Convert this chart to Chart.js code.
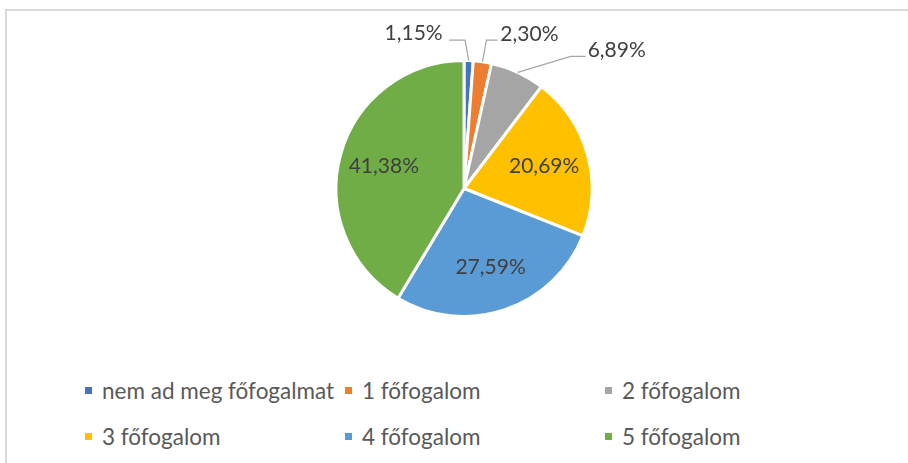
<!DOCTYPE html>
<html>
<head>
<meta charset="utf-8">
<script src="https://cdn.jsdelivr.net/npm/chart.js@4.4.0/dist/chart.umd.min.js"></script>
<style>
  html, body { margin: 0; padding: 0; background: #fff; }
  body { width: 908px; height: 463px; position: relative; overflow: hidden; font-family: Lato, "Open Sans", sans-serif; }
  #frame { position: absolute; left: 5px; top: 9px; width: 960px; height: 500px;
           border-left: 2px solid #d9d9d9; border-top: 2px solid #d9d9d9; }
  #wrap { position: absolute; left: 0; top: 0; width: 908px; height: 370px; }
  #legend { position: absolute; left: 0; top: 0; }
  .item { position: absolute; height: 26px; line-height: 26px; font-size: 22.5px; color: #595959; white-space: nowrap; }
  .box { position: absolute; left: 0; top: 9px; width: 7px; height: 7px; }
  .txt { position: absolute; left: 17px; top: 0; }
</style>
</head>
<body>
<div id="frame"></div>
<div id="wrap"><canvas id="myChart"></canvas></div>
<div id="legend"></div>
<script>
const categories = ['nem ad meg főfogalmat', '1 főfogalom', '2 főfogalom', '3 főfogalom', '4 főfogalom', '5 főfogalom'];
const shares = [1.15, 2.30, 6.89, 20.69, 27.59, 41.38];
const shareLabels = ['1,15%', '2,30%', '6,89%', '20,69%', '27,59%', '41,38%'];
const colors = ['#4472C4', '#ED7D31', '#A5A5A5', '#FFC000', '#5B9BD5', '#70AD47'];

// where each label goes: inside the slice, or outside with a leader line
// (offsets are relative to the point on the rim at the slice's mid angle)
const labelPlacement = [
    { text: [-55, -27], elbow: [-3.5, -20.5], end: [-19.5, -20.5] },
    { text: [47, -28], elbow: [4, -21.7], end: [15, -21.7] },
    { text: [99, -22], elbow: [53, -16], end: [68, -16] },
    null,
    null,
    null
];

const pieLabels = {
    id: 'pieLabels',
    afterDatasetsDraw(chart) {
        const c = chart.ctx;
        const arcs = chart.getDatasetMeta(0).data;
        c.save();
        c.font = '21px Lato';
        c.fillStyle = '#404040';
        c.textAlign = 'center';
        c.textBaseline = 'middle';
        arcs.forEach((arc, i) => {
            const mid = (arc.startAngle + arc.endAngle) / 2;
            const p = labelPlacement[i];
            if (!p) {
                const r = arc.outerRadius * 0.65;
                c.fillText(shareLabels[i], arc.x + Math.cos(mid) * r, arc.y + Math.sin(mid) * r);
                return;
            }
            const ax = arc.x + Math.cos(mid) * arc.outerRadius;
            const ay = arc.y + Math.sin(mid) * arc.outerRadius;
            c.strokeStyle = '#A6A6A6';
            c.lineWidth = 1.2;
            c.beginPath();
            c.moveTo(ax, ay);
            c.lineTo(ax + p.elbow[0], ay + p.elbow[1]);
            c.lineTo(ax + p.end[0], ay + p.end[1]);
            c.stroke();
            c.fillText(shareLabels[i], ax + p.text[0], ay + p.text[1]);
        });
        c.restore();
    }
};

const ctx = document.getElementById('myChart').getContext('2d');
const myChart = new Chart(ctx, {
    type: 'pie',
    data: {
        labels: categories,
        datasets: [{
            data: shares,
            backgroundColor: colors,
            borderColor: '#ffffff',
            borderWidth: 3,
            hoverOffset: 0
        }]
    },
    options: {
        responsive: true,
        maintainAspectRatio: false,
        animation: false,
        events: [],
        layout: { padding: { top: 59, bottom: 52, left: 20, right: 0 } },
        plugins: {
            legend: { display: false },
            tooltip: { enabled: false }
        }
    },
    plugins: [pieLabels]
});

// legend laid out like the original: 3 columns, 2 rows
const legend = document.getElementById('legend');
categories.forEach((name, i) => {
    const item = document.createElement('div');
    item.className = 'item';
    item.style.left = (85 + (i % 3) * 260) + 'px';
    item.style.top = (378 + Math.floor(i / 3) * 46) + 'px';
    item.innerHTML = '<span class="box" style="background:' + colors[i] + '"></span><span class="txt">' + name + '</span>';
    legend.appendChild(item);
});
</script>
</body>
</html>
